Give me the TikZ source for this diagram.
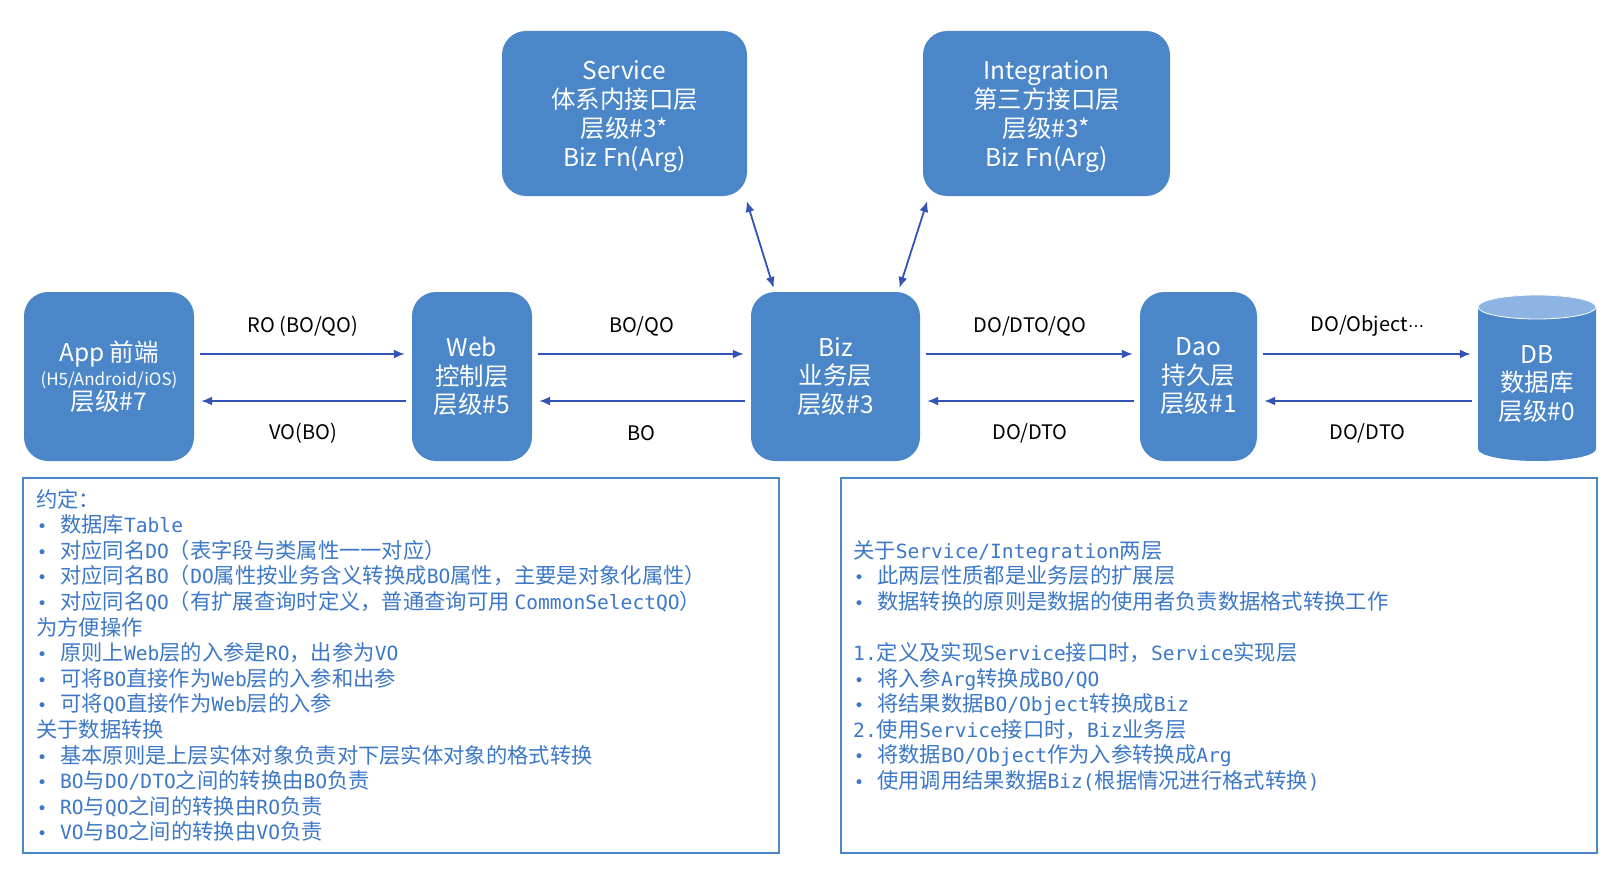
\documentclass[tikz,border=0pt]{standalone}
\usepackage{fontspec}
\setmainfont{Noto Sans CJK SC}
\newfontfamily\MyCjk{Noto Sans CJK SC}
\newfontfamily\MyMonoFont[Scale=0.92]{DejaVu Sans Mono}
\newfontfamily\MyDejaVu{DejaVu Sans}
\usetikzlibrary{arrows.meta,calc}
\definecolor{boxblue}{RGB}{74,134,200}
\definecolor{dbtop}{RGB}{141,180,226}
\definecolor{arrowblue}{RGB}{50,84,182}
\definecolor{noteblue}{RGB}{60,120,198}
\newcommand\MyMono[1]{{\MyMonoFont #1}}
\newcommand\MyBul{\makebox[24pt][l]{\hspace{1pt}{\MyDejaVu\fontsize{17}{20}\selectfont •}}}
\tikzset{
  layerbox/.style={fill=boxblue, draw=none, rounded corners=24pt, text=white, align=center,
    font=\MyCjk\fontsize{24.5}{28.5}\selectfont, inner sep=2pt},
  toptext/.style={font=\MyCjk\fontsize{24.5}{29}\selectfont, text depth=0pt},
  arr/.style={draw=arrowblue, line width=1.8pt, -{Latex[length=11pt,width=9pt]}, shorten <=6pt, shorten >=7pt},
  darr/.style={draw=arrowblue, line width=1.8pt, {Latex[length=11pt,width=9pt]}-{Latex[length=11pt,width=9pt]}, shorten <=4pt, shorten >=5pt},
  lbl/.style={font=\MyCjk\fontsize{20}{24}\selectfont, text=black, inner sep=0pt},
  notebox/.style={draw=boxblue, line width=1.8pt, fill=none, minimum width=756pt, minimum height=375pt, inner sep=0pt},
  notetext/.style={anchor=base west, inner sep=0pt, text=noteblue, font=\MyCjk\fontsize{21.3}{25.6}\selectfont},
}
\begin{document}
\begin{tikzpicture}[x=1pt, y=-1pt]
\useasboundingbox (0,0) rectangle (1620,880);
\fill[white] (0,0) rectangle (1620,880);

% top boxes
\node[layerbox, toptext, minimum width=245pt, minimum height=165pt] (svc) at (624.5,113.5)
  {Service\\体系内接口层\\层级\#3*\\Biz Fn(Arg)};
\node[layerbox, toptext, minimum width=247pt, minimum height=165pt] (intg) at (1046.5,113.5)
  {Integration\\第三方接口层\\层级\#3*\\Biz Fn(Arg)};

% main row
\node[layerbox, minimum width=170pt, minimum height=169pt, font=\MyCjk\fontsize{24.5}{24.5}\selectfont] (app) at (109,376.5)
  {App 前端\\{\fontsize{17}{24.5}\selectfont (H5/Android/iOS)}\\层级\#7};
\node[layerbox, minimum width=120pt, minimum height=169pt] (web) at (472,376.5)
  {Web\\控制层\\层级\#5};
\node[layerbox, minimum width=169pt, minimum height=169pt] (biz) at (835.5,376.5)
  {Biz\\业务层\\层级\#3};
\node[layerbox, minimum width=117pt, minimum height=169pt] (dao) at (1198.5,376.5)
  {Dao\\持久层\\层级\#1};

% database cylinder
\fill[boxblue] (1478,307) -- (1478,449)
  arc[start angle=180, end angle=360, x radius=59pt, y radius=12pt]
  -- (1596,307)
  arc[start angle=0, end angle=180, x radius=59pt, y radius=12pt] -- cycle;
\filldraw[fill=dbtop, draw=white, line width=0.8pt] (1537,307) ellipse[x radius=59pt, y radius=12pt];
\node[draw=none, text=white, align=center, font=\MyCjk\fontsize{24.5}{28.5}\selectfont,
  minimum width=118pt, minimum height=154pt, inner sep=2pt] (db) at (1537,384)
  {DB\\数据库\\层级\#0};

% horizontal connectors
\draw[arr] ([yshift=22.5pt]app.east) -- ([yshift=22.5pt]web.west)
  node[midway, lbl, yshift=28pt] {RO (BO/QO)};
\draw[arr] ([yshift=-24.5pt]web.west) -- ([yshift=-24.5pt]app.east)
  node[midway, lbl, yshift=-32pt] {VO(BO)};
\draw[arr] ([yshift=22.5pt]web.east) -- ([yshift=22.5pt]biz.west)
  node[midway, lbl, yshift=28pt] {BO/QO};
\draw[arr] ([yshift=-24.5pt]biz.west) -- ([yshift=-24.5pt]web.east)
  node[midway, lbl, yshift=-32pt] {BO};
\draw[arr] ([yshift=22.5pt]biz.east) -- ([yshift=22.5pt]dao.west)
  node[midway, lbl, yshift=28pt] {DO/DTO/QO};
\draw[arr] ([yshift=-24.5pt]dao.west) -- ([yshift=-24.5pt]biz.east)
  node[midway, lbl, yshift=-32pt] {DO/DTO};
\draw[arr] ([yshift=22.5pt]dao.east) -- ([yshift=22.5pt]dao.east -| db.west)
  node[midway, lbl, yshift=28pt] {DO/Object{\MyDejaVu\fontsize{16}{20}\selectfont ⋯}};
\draw[arr] ([yshift=-24.5pt]dao.east -| db.west) -- ([yshift=-24.5pt]dao.east)
  node[midway, lbl, yshift=-32pt] {DO/DTO};

% diagonal connectors
\draw[darr] ([xshift=24pt]biz.north west) -- ([xshift=-2pt]svc.south east);
\draw[darr] ([xshift=-22pt]biz.north east) -- ([xshift=6pt]intg.south west);

% note boxes
\node[notebox] (boxL) at (401,665.5) {};
\node[notebox] (boxR) at (1219,665.5) {};

\foreach \t [count=\i from 0] in {
  {约定：},
  {\MyBul 数据库\MyMono{Table}},
  {\MyBul 对应同名\MyMono{DO}（表字段与类属性一一对应）},
  {\MyBul 对应同名\MyMono{BO}（\MyMono{DO}属性按业务含义转换成\MyMono{BO}属性，主要是对象化属性）},
  {\MyBul 对应同名\MyMono{QO}（有扩展查询时定义，普通查询可用 \MyMono{CommonSelectQO}）},
  {为方便操作},
  {\MyBul 原则上\MyMono{Web}层的入参是\MyMono{RO}，出参为\MyMono{VO}},
  {\MyBul 可将\MyMono{BO}直接作为\MyMono{Web}层的入参和出参},
  {\MyBul 可将\MyMono{QO}直接作为\MyMono{Web}层的入参},
  {关于数据转换},
  {\MyBul 基本原则是上层实体对象负责对下层实体对象的格式转换},
  {\MyBul \MyMono{BO}与\MyMono{DO/DTO}之间的转换由\MyMono{BO}负责},
  {\MyBul \MyMono{RO}与\MyMono{QO}之间的转换由\MyMono{RO}负责},
  {\MyBul \MyMono{VO}与\MyMono{BO}之间的转换由\MyMono{VO}负责}
}{
  \node[notetext] (L\i) at (36, 507+25.6*\i) {\t};
}

\foreach \t [count=\i from 0] in {
  {关于\MyMono{Service/Integration}两层},
  {\MyBul 此两层性质都是业务层的扩展层},
  {\MyBul 数据转换的原则是数据的使用者负责数据格式转换工作},
  {},
  {\MyMono{1.}定义及实现\MyMono{Service}接口时，\MyMono{Service}实现层},
  {\MyBul 将入参\MyMono{Arg}转换成\MyMono{BO/QO}},
  {\MyBul 将结果数据\MyMono{BO/Object}转换成\MyMono{Biz}},
  {\MyMono{2.}使用\MyMono{Service}接口时，\MyMono{Biz}业务层},
  {\MyBul 将数据\MyMono{BO/Object}作为入参转换成\MyMono{Arg}},
  {\MyBul 使用调用结果数据\MyMono{Biz(}根据情况进行格式转换\MyMono{)}}
}{
  \node[notetext] (R\i) at (853, 558+25.6*\i) {\t};
}
\end{tikzpicture}
\end{document}
